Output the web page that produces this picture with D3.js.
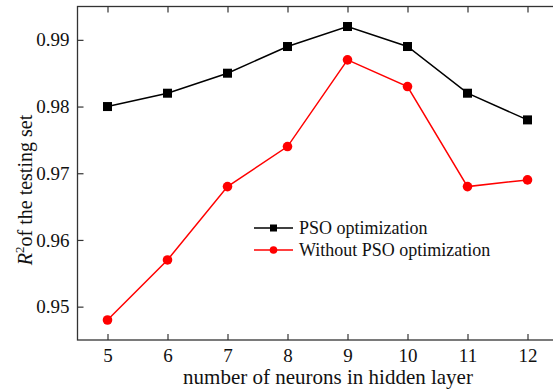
<!DOCTYPE html>
<html>
<head>
<meta charset="utf-8">
<script src="https://cdn.jsdelivr.net/npm/d3@7/dist/d3.min.js"></script>
<style>
  html, body { margin: 0; padding: 0; background: #fff; }
</style>
</head>
<body>
<svg id="chart" width="553" height="390"></svg>
<script>
// Hidden-layer sizes and R^2 on the testing set
const neurons = [5, 6, 7, 8, 9, 10, 11, 12];
const psoR2 = [0.980, 0.982, 0.985, 0.989, 0.992, 0.989, 0.982, 0.978];
const noPsoR2 = [0.948, 0.957, 0.968, 0.974, 0.987, 0.983, 0.968, 0.969];
const yTicks = [0.95, 0.96, 0.97, 0.98, 0.99];
const seriesNames = ["PSO optimization", "Without PSO optimization"];

const serif = "Liberation Serif";
const svg = d3.select("#chart");
const plotL = 77.5, plotR = 557.5, plotT = 6.5, plotB = 340;

const x = d3.scaleLinear().domain([4.5, 12.5]).range([plotL, plotR]);
const y = d3.scaleLinear().domain([0.945, 0.995]).range([plotB, plotT]);

// frame
svg.append("rect")
  .attr("x", plotL).attr("y", plotT)
  .attr("width", plotR - plotL).attr("height", plotB - plotT)
  .attr("fill", "none").attr("stroke", "#333").attr("stroke-width", 1.3);

// axes with inward ticks
const xAxis = svg.append("g").attr("transform", `translate(0,${plotB})`)
  .call(d3.axisBottom(x).tickValues(neurons).tickSize(-6).tickPadding(9).tickFormat(d3.format("d")));
const xTop = svg.append("g").attr("transform", `translate(0,${plotT})`)
  .call(d3.axisTop(x).tickValues(neurons).tickSize(-6).tickFormat(""));
const yAxis = svg.append("g").attr("transform", `translate(${plotL},0)`)
  .call(d3.axisLeft(y).tickValues(yTicks).tickSize(-6).tickPadding(8).tickFormat(d3.format(".2f")));

[xAxis, xTop, yAxis].forEach(g => {
  g.attr("font-family", serif).attr("font-size", 19);
  g.select(".domain").remove();
  g.selectAll(".tick line").attr("stroke", "#333").attr("stroke-width", 1.2);
  g.selectAll("text").attr("fill", "#111");
});

const line = d3.line().x((d, i) => x(neurons[i])).y(d => y(d));

// PSO optimization series
svg.append("path").datum(psoR2).attr("d", line)
  .attr("fill", "none").attr("stroke", "#000").attr("stroke-width", 1.5);
svg.selectAll(".sq").data(psoR2).enter().append("rect")
  .attr("x", (d, i) => x(neurons[i]) - 4.5).attr("y", d => y(d) - 4.5)
  .attr("width", 9).attr("height", 9).attr("fill", "#000");

// without PSO series
svg.append("path").datum(noPsoR2).attr("d", line)
  .attr("fill", "none").attr("stroke", "#ff0000").attr("stroke-width", 1.5);
svg.selectAll(".dot").data(noPsoR2).enter().append("circle")
  .attr("cx", (d, i) => x(neurons[i])).attr("cy", d => y(d))
  .attr("r", 4.8).attr("fill", "#ff0000");

// legend
const legend = svg.append("g").attr("font-family", serif).attr("font-size", 18);
const legendItems = [
  { name: seriesNames[0], color: "#000", shape: "square", ly: 228 },
  { name: seriesNames[1], color: "#ff0000", shape: "circle", ly: 250 }
];
legendItems.forEach(it => {
  legend.append("line").attr("x1", 254).attr("x2", 293)
    .attr("y1", it.ly).attr("y2", it.ly)
    .attr("stroke", it.color).attr("stroke-width", 1.5);
  if (it.shape === "square") {
    legend.append("rect").attr("x", 273.5 - 3.5).attr("y", it.ly - 3.5)
      .attr("width", 7).attr("height", 7).attr("fill", it.color);
  } else {
    legend.append("circle").attr("cx", 273.5).attr("cy", it.ly).attr("r", 3.8).attr("fill", it.color);
  }
  legend.append("text").attr("x", 299).attr("y", it.ly + 6.3)
    .attr("fill", "#111").text(it.name);
});

// axis titles
svg.append("text").attr("x", 328).attr("y", 384)
  .attr("text-anchor", "middle").attr("font-family", serif).attr("font-size", 21).attr("fill", "#111")
  .text("number of neurons in hidden layer");

const yTitle = svg.append("text")
  .attr("transform", "translate(32,190) rotate(-90)")
  .attr("text-anchor", "middle").attr("font-family", serif).attr("font-size", 20).attr("fill", "#111");
yTitle.append("tspan").attr("font-style", "italic").text("R");
yTitle.append("tspan").attr("dy", -8).attr("font-size", 13).text("2");
yTitle.append("tspan").attr("dy", 8).text("of the testing set");
</script>
</body>
</html>
